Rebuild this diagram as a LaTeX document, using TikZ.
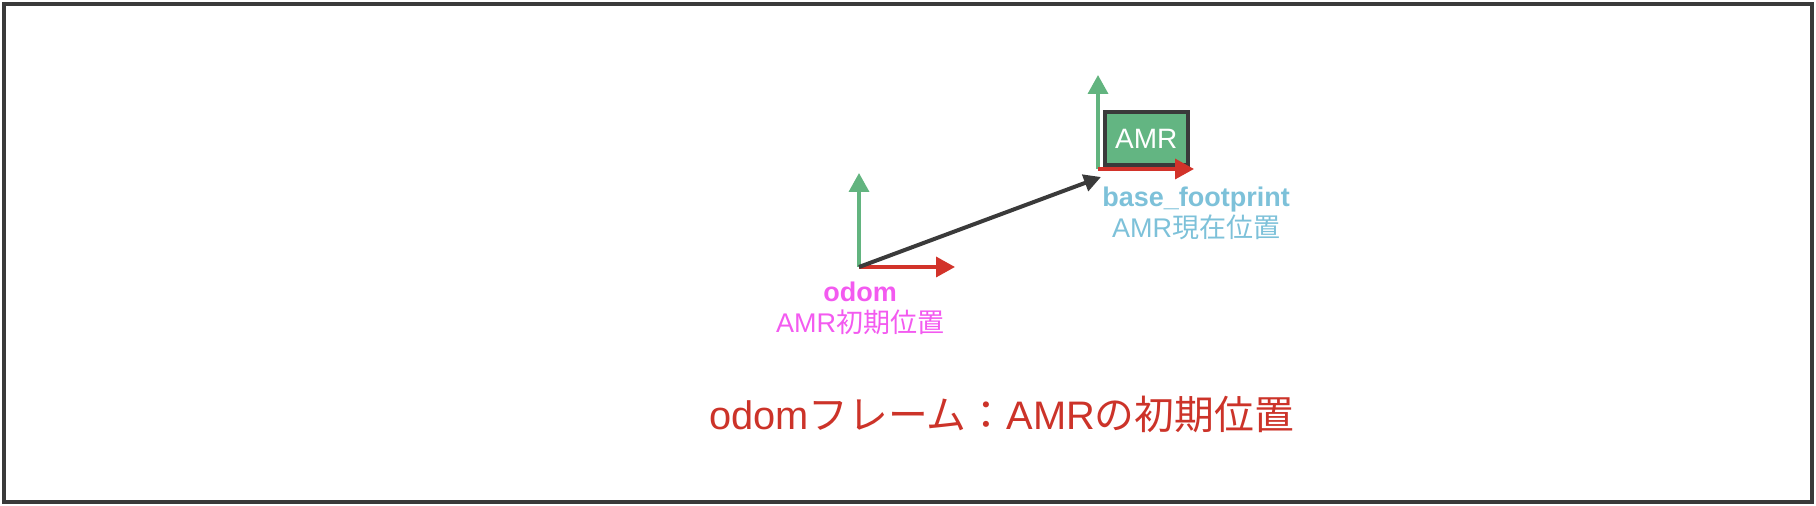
\documentclass[tikz,border=0pt]{standalone}
\usepackage{fontspec}
\setmainfont{Liberation Sans}
\newfontfamily\jp{Noto Sans CJK JP}
\usetikzlibrary{positioning, arrows.meta}

\definecolor{framegray}{HTML}{3A3A3A}
\definecolor{axisgreen}{HTML}{62B47F}
\definecolor{axisred}{HTML}{D2332A}
\definecolor{amrgreen}{HTML}{63B582}
\definecolor{odompink}{HTML}{F35AF0}
\definecolor{baseblue}{HTML}{7DC1D9}
\definecolor{captionred}{HTML}{CC3329}

\begin{document}
\begin{tikzpicture}[x=0.5pt, y=-0.5pt,
    axis/.style={line width=1.75pt, -{Triangle[length=9.5pt, width=10pt]}},
    framelabel/.style={anchor=base, inner sep=0pt, font=\fontsize{13.5}{15.5}\selectfont}]
    \useasboundingbox (0,0) rectangle (1816,506);
    \draw [framegray, line width=2pt] (4,4) rectangle (1812,502);

    % frames
    \coordinate (odom) at (859,267);
    \coordinate (odomx) at (955,267);
    \coordinate (odomy) at (859,173);
    \coordinate (base) at (1098,169);
    \coordinate (basex) at (1194,169);
    \coordinate (basey) at (1098,75);
    \coordinate (basetip) at (1101,177);

    \node (amr) [draw=framegray, fill=amrgreen, line width=2pt, minimum width=41.75pt, minimum height=26.5pt, inner sep=0pt, text=white, font=\fontsize{14}{14}\selectfont] at (1146.25,138.5) {AMR};

    \draw [axis, axisgreen] (odom) -- (odomy);
    \draw [axis, axisred] (odom) -- (odomx);
    \draw [axis, axisgreen] (base) -- (basey);
    \draw [axis, axisred] (base) -- (basex);
    \draw [framegray, line width=2pt, -{Triangle[length=8.5pt, width=8.5pt]}] (odom) -- (basetip);

    % labels
    \node (odomname) [framelabel, text=odompink, font=\fontsize{13.5}{15.5}\selectfont\bfseries] at (860,302) {odom};
    \node (odomdesc) [framelabel, text=odompink] at ([yshift=-15.5pt]odomname.base) {AMR{\jp 初期位置}};
    \node (basename) [framelabel, text=baseblue, font=\fontsize{13.5}{15.5}\selectfont\bfseries] at (1196,207) {base\_footprint};
    \node (basedesc) [framelabel, text=baseblue] at ([yshift=-15.5pt]basename.base) {AMR{\jp 現在位置}};

    \node (caption) [anchor=base, inner sep=0pt, text=captionred, font=\fontsize{19.9}{19.9}\selectfont] at (1001.5,430) {odom{\jp フレーム：}AMR{\jp の初期位置}};
\end{tikzpicture}
\end{document}
